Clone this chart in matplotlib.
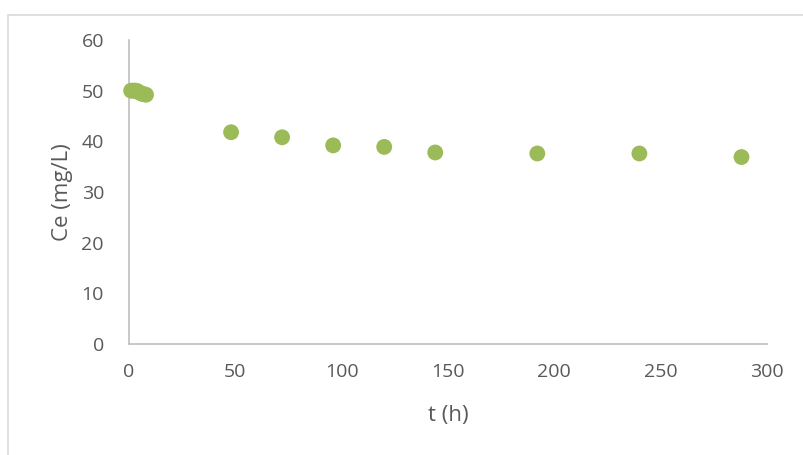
import matplotlib
matplotlib.use("Agg")
import matplotlib.pyplot as plt
from matplotlib.patches import Rectangle

# sampling time (h) and equilibrium concentration (mg/L)
t_h = [1, 2, 3, 4, 5, 6, 7, 8, 48, 72, 96, 120, 144, 192, 240, 288]
ce = [50.0, 50.0, 50.0, 49.9, 49.6, 49.4, 49.3, 49.2, 41.8, 40.8, 39.2, 38.9, 37.8, 37.6, 37.6, 36.9]

x_ticks = [0, 50, 100, 150, 200, 250, 300]
y_ticks = [0, 10, 20, 30, 40, 50, 60]

plt.rcParams["font.family"] = ["Open Sans", "DejaVu Sans"]
grey = "#595959"

fig = plt.figure(figsize=(8.04, 4.55), dpi=100)
fig.patches.append(Rectangle((8 / 804, -0.01), 1.0, (455 - 15) / 455 + 0.01,
                             transform=fig.transFigure, fill=False,
                             edgecolor="#d9d9d9", linewidth=1.2))

ax = fig.add_axes([129 / 804, 1 - 344 / 455, (767 - 129) / 804, (344 - 40) / 455])
ax.scatter(t_h, ce, s=130, color="#9bbb59", edgecolors="none", zorder=3, clip_on=False)

ax.set_xlim(0, 300)
ax.set_ylim(0, 60)
ax.set_xticks(x_ticks)
ax.set_yticks(y_ticks)
ax.tick_params(length=0, labelsize=14, colors=grey)
ax.tick_params(axis="x", pad=14)
ax.tick_params(axis="y", pad=18)
for side in ("top", "right"):
    ax.spines[side].set_visible(False)
for side in ("left", "bottom"):
    ax.spines[side].set_color("#bfbfbf")
    ax.spines[side].set_linewidth(1.2)

ax.set_xlabel("t (h)", fontsize=16, color=grey, labelpad=17)
ax.set_ylabel("Ce (mg/L)", fontsize=16, color=grey, labelpad=6)

fig.savefig("out.png", dpi=100)
